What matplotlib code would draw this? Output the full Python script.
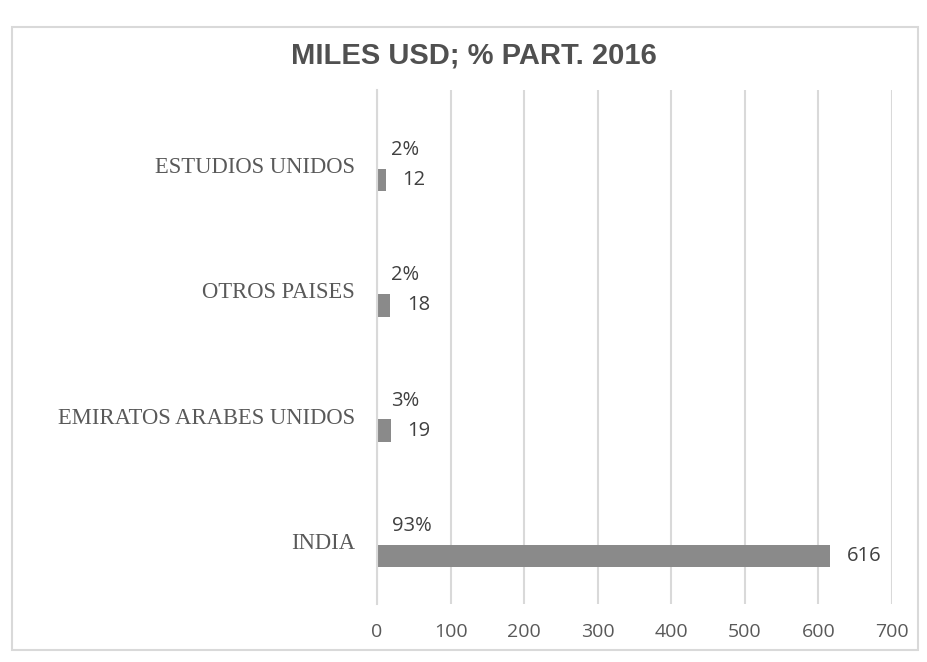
import matplotlib.pyplot as plt
from matplotlib.patches import Rectangle

# data, bottom to top
paises = ["INDIA", "EMIRATOS ARABES UNIDOS", "OTROS PAISES", "ESTUDIOS UNIDOS"]
miles_usd = [616, 19, 18, 12]
participacion = [93, 3, 2, 2]
x_ticks = [0, 100, 200, 300, 400, 500, 600, 700]

fig = plt.figure(figsize=(9.28, 6.62), dpi=100)
fig.patches.append(Rectangle((12 / 928, 1 - 650 / 662), 906 / 928, 623 / 662,
                             transform=fig.transFigure, fill=False,
                             ec="#d9d9d9", lw=1.5))

ax = fig.add_axes([377 / 928, 1 - 604 / 662, 515 / 928, 514 / 662])

pos = list(range(len(paises)))
off = 0.12
h = 0.18

# invisible series for the share labels
pct_bars = ax.barh([p + off for p in pos], [v / 100 for v in participacion],
                   height=h, color="none")
ax.bar_label(pct_bars, labels=[f"{v}%" for v in participacion], padding=10,
             fontsize=14.5, color="#404040", family="Open Sans")

val_bars = ax.barh([p - off for p in pos], miles_usd, height=h, color="#8a8a8a")
ax.bar_label(val_bars, labels=[str(v) for v in miles_usd], padding=12,
             fontsize=14.5, color="#404040", family="Open Sans")

ax.set_xlim(0, 700)
ax.set_ylim(-0.503, 3.6)
ax.set_xticks(x_ticks)
ax.set_xticklabels([str(t) for t in x_ticks], family="Open Sans",
                   fontsize=14, color="#595959")
ax.set_yticks(pos)
ax.set_yticklabels(paises, family="Liberation Serif", fontsize=16.3,
                   color="#595959")
ax.tick_params(axis="x", length=0, pad=14)
ax.tick_params(axis="y", length=0, pad=16)

ax.grid(axis="x", color="#d9d9d9", lw=1.5)
ax.set_axisbelow(True)
for s in ["top", "right", "bottom"]:
    ax.spines[s].set_visible(False)
ax.spines["left"].set_color("#d9d9d9")
ax.spines["left"].set_linewidth(1.5)

fig.text(474 / 928, 1 - 55 / 662, "MILES USD; % PART. 2016", ha="center",
         va="center", fontsize=21, fontweight="bold", color="#505050",
         family="Liberation Sans")

fig.savefig("out.png", dpi=100)
